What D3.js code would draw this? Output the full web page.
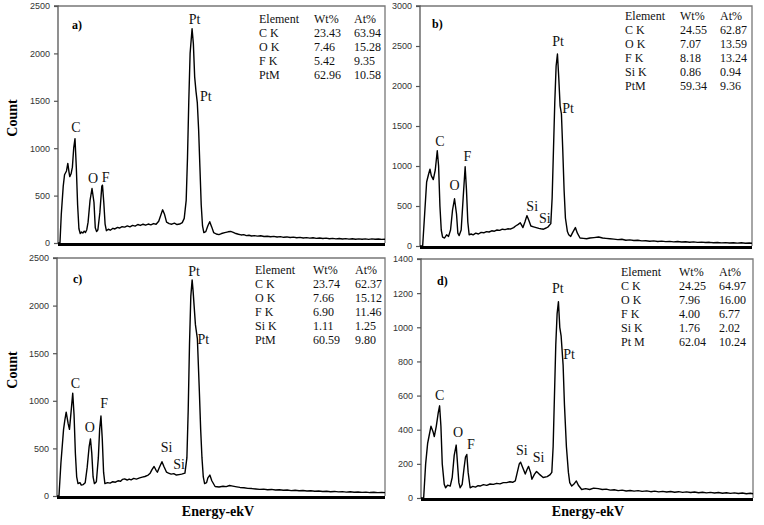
<!DOCTYPE html>
<html><head><meta charset="utf-8">
<script src="https://cdn.jsdelivr.net/npm/d3@7"></script>
<style>body{margin:0;background:#fff}svg{display:block}</style>
</head><body>
<svg id="chart" width="764" height="525"></svg>
<script>
// ---- data (energy keV, count) ----
const spectrumA = [[0,0],[0.03,0],[0.05,300],[0.08,600],[0.10,720],[0.13,760],[0.15,840],[0.17,740],[0.18,700],[0.20,730],[0.22,800],[0.24,1000],[0.26,1100],[0.28,800],[0.30,400],[0.32,150],[0.34,100],[0.36,115],[0.38,105],[0.40,125],[0.42,110],[0.44,140],[0.46,220],[0.49,450],[0.52,575],[0.55,430],[0.57,160],[0.59,120],[0.61,140],[0.64,320],[0.67,600],[0.68,610],[0.70,430],[0.72,200],[0.74,130],[0.77,145],[0.80,135],[0.84,155],[0.87,148],[0.91,165],[0.94,158],[0.98,172],[1.02,168],[1.06,180],[1.10,170],[1.14,186],[1.18,178],[1.22,195],[1.26,185],[1.30,198],[1.34,188],[1.38,200],[1.42,192],[1.46,205],[1.50,198],[1.54,230],[1.57,290],[1.60,350],[1.63,300],[1.66,220],[1.70,205],[1.74,198],[1.78,210],[1.82,195],[1.86,200],[1.90,215],[1.93,260],[1.96,450],[1.98,900],[2.00,1500],[2.02,2000],[2.05,2260],[2.07,2100],[2.09,1750],[2.11,1600],[2.13,1480],[2.15,1200],[2.17,800],[2.19,400],[2.21,180],[2.23,110],[2.26,120],[2.29,180],[2.32,225],[2.35,170],[2.38,110],[2.42,95],[2.46,88],[2.50,100],[2.55,110],[2.60,118],[2.64,122],[2.68,112],[2.72,100],[2.76,92],[2.80,85],[2.84,88],[2.88,78],[2.92,82],[2.96,74],[3.00,78],[3.05,72],[3.10,76],[3.15,68],[3.20,71],[3.25,66],[3.30,70],[3.35,63],[3.40,67],[3.45,60],[3.50,64],[3.55,58],[3.60,62],[3.65,56],[3.70,59],[3.75,53],[3.80,57],[3.85,51],[3.90,55],[3.95,49],[4.00,53],[4.05,47],[4.10,51],[4.15,45],[4.20,49],[4.25,44],[4.30,48],[4.35,42],[4.40,46],[4.45,41],[4.50,45],[4.55,40],[4.60,44],[4.65,39],[4.70,43],[4.75,38],[4.80,44],[4.85,39],[4.90,42],[4.95,38],[5.00,40]];
const spectrumB = [[0,0],[0.04,0],[0.07,400],[0.10,800],[0.13,900],[0.15,960],[0.17,880],[0.20,830],[0.23,950],[0.26,1190],[0.28,1000],[0.30,500],[0.32,200],[0.34,110],[0.37,100],[0.40,140],[0.43,120],[0.46,200],[0.49,450],[0.52,590],[0.55,400],[0.57,160],[0.59,130],[0.62,200],[0.65,600],[0.68,990],[0.70,700],[0.72,300],[0.74,140],[0.77,150],[0.80,140],[0.84,160],[0.88,150],[0.92,170],[0.96,165],[1.00,180],[1.04,175],[1.08,190],[1.12,185],[1.16,200],[1.20,195],[1.24,210],[1.28,205],[1.32,215],[1.36,212],[1.41,230],[1.44,250],[1.48,270],[1.51,290],[1.53,260],[1.55,230],[1.58,300],[1.61,380],[1.64,320],[1.67,250],[1.71,240],[1.75,230],[1.79,220],[1.82,215],[1.86,210],[1.90,225],[1.93,240],[1.97,280],[1.99,600],[2.01,1200],[2.03,1800],[2.05,2250],[2.07,2400],[2.09,2100],[2.11,1750],[2.13,1650],[2.15,1200],[2.17,700],[2.19,350],[2.22,180],[2.24,140],[2.27,120],[2.30,170],[2.34,230],[2.37,160],[2.41,100],[2.46,95],[2.51,90],[2.56,100],[2.62,105],[2.69,112],[2.75,100],[2.80,95],[2.86,90],[2.92,86],[2.98,80],[3.04,84],[3.10,72],[3.16,76],[3.22,68],[3.28,72],[3.34,64],[3.40,66],[3.46,60],[3.52,64],[3.58,57],[3.64,61],[3.70,55],[3.76,58],[3.82,52],[3.88,56],[3.94,50],[4.00,53],[4.06,47],[4.12,51],[4.18,45],[4.24,48],[4.30,43],[4.36,46],[4.42,40],[4.48,44],[4.54,39],[4.60,42],[4.66,37],[4.72,41],[4.78,36],[4.84,40],[4.90,35],[4.96,38],[5.00,35]];
const spectrumC = [[0,0],[0.03,0],[0.06,350],[0.10,700],[0.12,800],[0.14,880],[0.17,760],[0.19,700],[0.21,850],[0.24,1080],[0.26,850],[0.28,450],[0.30,200],[0.32,130],[0.35,140],[0.37,115],[0.40,120],[0.43,140],[0.46,300],[0.49,520],[0.51,600],[0.53,450],[0.55,200],[0.57,130],[0.60,150],[0.63,400],[0.65,700],[0.67,840],[0.69,600],[0.71,250],[0.73,130],[0.77,140],[0.81,135],[0.85,150],[0.89,145],[0.93,160],[0.97,155],[1.00,175],[1.03,180],[1.07,168],[1.10,178],[1.13,170],[1.17,185],[1.21,178],[1.26,190],[1.30,198],[1.34,205],[1.39,220],[1.42,240],[1.45,280],[1.48,310],[1.51,270],[1.53,250],[1.56,300],[1.60,360],[1.63,310],[1.67,250],[1.70,240],[1.74,230],[1.78,235],[1.82,220],[1.86,225],[1.90,230],[1.95,240],[1.98,400],[2.00,900],[2.02,1600],[2.04,2100],[2.06,2270],[2.075,2150],[2.09,2000],[2.11,1800],[2.14,1650],[2.17,1100],[2.19,700],[2.21,400],[2.23,200],[2.25,130],[2.28,140],[2.30,190],[2.33,220],[2.36,160],[2.41,100],[2.47,95],[2.53,102],[2.58,98],[2.63,110],[2.68,104],[2.74,96],[2.79,90],[2.85,86],[2.91,80],[2.97,78],[3.03,74],[3.09,70],[3.15,72],[3.21,66],[3.27,69],[3.33,63],[3.39,66],[3.45,60],[3.51,63],[3.57,57],[3.63,60],[3.69,55],[3.75,58],[3.81,53],[3.87,55],[3.93,50],[3.99,53],[4.05,47],[4.11,50],[4.17,45],[4.23,48],[4.29,43],[4.35,46],[4.41,41],[4.47,44],[4.53,39],[4.59,42],[4.65,38],[4.71,41],[4.77,36],[4.83,39],[4.89,35],[4.95,38],[5.00,35]];
const spectrumD = [[0,0],[0.04,0],[0.07,200],[0.10,320],[0.115,350],[0.15,420],[0.18,390],[0.20,360],[0.23,420],[0.26,500],[0.28,540],[0.30,420],[0.32,200],[0.35,80],[0.37,60],[0.40,75],[0.44,70],[0.47,120],[0.50,250],[0.53,310],[0.55,200],[0.57,90],[0.59,60],[0.62,80],[0.65,180],[0.67,240],[0.69,255],[0.71,150],[0.74,60],[0.78,68],[0.82,64],[0.86,72],[0.89,70],[0.94,78],[0.99,74],[1.04,82],[1.09,80],[1.14,86],[1.19,83],[1.24,90],[1.29,90],[1.34,95],[1.38,92],[1.42,100],[1.45,150],[1.48,200],[1.50,210],[1.53,180],[1.57,140],[1.60,170],[1.62,185],[1.65,150],[1.67,110],[1.71,140],[1.74,155],[1.78,140],[1.84,120],[1.90,125],[1.94,135],[1.97,150],[1.99,300],[2.01,600],[2.03,900],[2.05,1080],[2.07,1150],[2.09,1000],[2.11,950],[2.14,780],[2.16,550],[2.19,300],[2.22,150],[2.24,90],[2.27,70],[2.30,80],[2.34,100],[2.37,75],[2.42,50],[2.48,55],[2.54,50],[2.60,58],[2.67,55],[2.73,50],[2.79,52],[2.85,46],[2.91,48],[2.97,43],[3.03,46],[3.09,41],[3.15,44],[3.21,40],[3.27,43],[3.33,39],[3.40,42],[3.46,37],[3.52,40],[3.58,36],[3.64,39],[3.70,35],[3.76,38],[3.82,34],[3.88,37],[3.94,33],[4.00,36],[4.06,32],[4.12,35],[4.18,31],[4.24,34],[4.30,30],[4.36,33],[4.42,29],[4.48,32],[4.54,28],[4.60,31],[4.66,27],[4.72,30],[4.78,26],[4.84,29],[4.90,25],[4.96,28],[5.00,25]];

// peak annotations: [text, energy, count]
const peaksA = [["Pt",2.09,2310],["Pt",2.26,1498],["C",0.275,1171],["O",0.535,633],["F",0.73,643]];
const peaksB = [["Pt",2.08,2500],["Pt",2.23,1666],["C",0.30,1254],["O",0.52,700],["F",0.715,1062],["Si",1.69,441],["Si",1.88,291]];
const peaksC = [["Pt",2.09,2311],["Pt",2.23,1597],["C",0.28,1131],["O",0.50,675],["F",0.72,921],["Si",1.67,466],["Si",1.86,283]];
const peaksD = [["Pt",2.06,1199],["Pt",2.23,812],["C",0.28,574],["O",0.56,355],["F",0.75,287],["Si",1.52,252],["Si",1.77,209]];

// composition tables
const tableHeader = ["Element","Wt%","At%"];
const tableA = [["C K","23.43","63.94"],["O K","7.46","15.28"],["F K","5.42","9.35"],["PtM","62.96","10.58"]];
const tableB = [["C K","24.55","62.87"],["O K","7.07","13.59"],["F K","8.18","13.24"],["Si K","0.86","0.94"],["PtM","59.34","9.36"]];
const tableC = [["C K","23.74","62.37"],["O K","7.66","15.12"],["F K","6.90","11.46"],["Si K","1.11","1.25"],["PtM","60.59","9.80"]];
const tableD = [["C K","24.25","64.97"],["O K","7.96","16.00"],["F K","4.00","6.77"],["Si K","1.76","2.02"],["Pt M","62.04","10.24"]];

const yTicksA = [0,500,1000,1500,2000,2500];
const yTicksB = [0,500,1000,1500,2000,2500,3000];
const yTicksC = [0,500,1000,1500,2000,2500];
const yTicksD = [0,200,400,600,800,1000,1200,1400];
const panelTags = ["a)","b)","c)","d)"];
const energyDomain = [0,5];

// ---- layout ----
const panels = [
  {tag:panelTags[0], data:spectrumA, peaks:peaksA, table:tableA, ticks:yTicksA, l:58, t:6, r:385, b:243, tx:[259,314,354], ty:23, tagPos:[72,29]},
  {tag:panelTags[1], data:spectrumB, peaks:peaksB, table:tableB, ticks:yTicksB, l:420, t:6, r:752, b:246, tx:[625,680,720], ty:20, tagPos:[432,28]},
  {tag:panelTags[2], data:spectrumC, peaks:peaksC, table:tableC, ticks:yTicksC, l:57, t:258, r:385, b:496, tx:[255,313,355], ty:274, tagPos:[73,283]},
  {tag:panelTags[3], data:spectrumD, peaks:peaksD, table:tableD, ticks:yTicksD, l:421, t:259, r:753, b:498, tx:[621,679,719], ty:276, tagPos:[437,285]}
];

const svg = d3.select("#chart");
const serif = "'Liberation Serif','Times New Roman',serif";
const sans = "'Liberation Sans',Arial,sans-serif";

panels.forEach(p => {
  const x = d3.scaleLinear().domain(energyDomain).range([p.l, p.r]);
  const y = d3.scaleLinear().domain([0, d3.max(p.ticks)]).range([p.b, p.t]);
  const g = svg.append("g");

  // frame (top & right)
  g.append("path").attr("d", `M${p.l},${p.t}H${p.r}V${p.b}`)
    .attr("fill","none").attr("stroke","#777").attr("stroke-width",1.3);

  // y axis
  const ax = g.append("g").attr("transform",`translate(${p.l},0)`)
    .call(d3.axisLeft(y).tickValues(p.ticks).tickSize(4).tickPadding(4).tickFormat(d3.format("d")));
  ax.select(".domain").attr("stroke","#555").attr("stroke-width",1.3).attr("d",`M-4,${p.t}H0V${p.b+1}`);
  ax.selectAll(".tick line").attr("stroke","#555").attr("stroke-width",1.2);
  ax.selectAll(".tick text").attr("fill","#333").style("font-family",sans).style("font-size","9px");

  // spectrum
  const line = d3.line().x(d => x(d[0])).y(d => y(d[1]));
  g.append("path").datum(p.data).attr("d", line)
    .attr("fill","none").attr("stroke","#000").attr("stroke-width",1.4).attr("stroke-linejoin","round");

  // bottom axis (thick)
  g.append("line").attr("x1",p.l).attr("x2",p.r).attr("y1",p.b+1.5).attr("y2",p.b+1.5)
    .attr("stroke","#000").attr("stroke-width",3);

  // peak labels
  g.selectAll("text.peak").data(p.peaks).join("text").attr("class","peak")
    .attr("x", d => x(d[1])).attr("y", d => y(d[2]))
    .attr("text-anchor","middle").style("font-family",serif).style("font-size","14px").attr("fill","#111")
    .text(d => d[0]);

  // panel tag
  g.append("text").attr("x",p.tagPos[0]).attr("y",p.tagPos[1])
    .style("font-family",serif).style("font-size","12px").style("font-weight","bold").text(p.tag);

  // table
  const rows = [tableHeader].concat(p.table);
  rows.forEach((row,i) => {
    row.forEach((cell,j) => {
      g.append("text").attr("x",p.tx[j]).attr("y",p.ty + i*14)
        .style("font-family",serif).style("font-size","12px").attr("fill","#111").text(cell);
    });
  });
});

// axis titles
[118, 370].forEach(cy => {
  svg.append("text").attr("transform",`translate(17,${cy}) rotate(-90)`).attr("text-anchor","middle")
    .style("font-family",serif).style("font-size","14px").style("font-weight","bold").text("Count");
});
[218, 588].forEach(cx => {
  svg.append("text").attr("x",cx).attr("y",516).attr("text-anchor","middle")
    .style("font-family",serif).style("font-size","14px").style("font-weight","bold").text("Energy-ekV");
});
</script>
</body></html>
